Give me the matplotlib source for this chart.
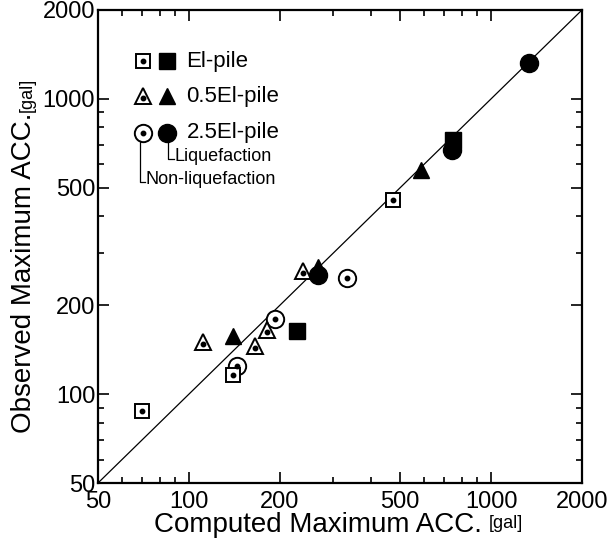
import numpy as np
import matplotlib
matplotlib.use("Agg")
import matplotlib.pyplot as plt
from matplotlib.ticker import FixedLocator, NullFormatter

plt.rcParams["font.family"] = ["Liberation Sans", "DejaVu Sans"]

# --- data (computed, observed) in gal ---
el_open_x = [70, 140, 475]
el_open_y = [88, 116, 455]
el_fill_x = [227, 747]
el_fill_y = [164, 726]

half_open_x = [111, 165, 181, 239]
half_open_y = [150, 146, 165, 262]
half_fill_x = [140, 268, 585]
half_fill_y = [157, 270, 574]

two5_open_x = [144, 192, 333]
two5_open_y = [125, 179, 247]
two5_fill_x = [268, 741, 1335]
two5_fill_y = [253, 671, 1326]

lims = [50, 2000]
major_ticks = [50, 100, 200, 500, 1000, 2000]
tick_labels = ["50", "100", "200", "500", "1000", "2000"]
minor_ticks = [60, 70, 80, 90, 300, 400, 600, 700, 800, 900]

legend_rows = ["El-pile", "0.5El-pile", "2.5El-pile"]

fig = plt.figure(figsize=(6.13, 5.43), dpi=100)
ax = fig.add_axes([98 / 613, 60 / 543, 484 / 613, 473 / 543])
ax.set_xscale("log")
ax.set_yscale("log")
ax.set_xlim(lims)
ax.set_ylim(lims)

# 1:1 line
ax.plot(lims, lims, color="black", lw=0.9, zorder=1)

dot = dict(marker="o", ms=3.2, color="black", ls="none", zorder=5)
open_kw = dict(ls="none", mfc="white", mec="black", mew=1.4, zorder=3)
fill_kw = dict(ls="none", color="black", zorder=4)

# circles
ax.plot(two5_open_x, two5_open_y, marker="o", ms=12.5, **open_kw)
ax.plot(two5_open_x, two5_open_y, **dot)
ax.plot(two5_fill_x, two5_fill_y, marker="o", ms=13, **fill_kw)
# triangles
ax.plot(half_open_x, half_open_y, marker="^", ms=11.5, **open_kw)
ax.plot(half_open_x, np.array(half_open_y) * 0.985, **dot)
ax.plot(half_fill_x, half_fill_y, marker="^", ms=12, **fill_kw)
# squares
ax.plot(el_open_x, el_open_y, marker="s", ms=9.5, **open_kw)
ax.plot(el_open_x, el_open_y, **dot)
ax.plot(el_fill_x, el_fill_y, marker="s", ms=11, **fill_kw)

# ticks
for axis in (ax.xaxis, ax.yaxis):
    axis.set_major_locator(FixedLocator(major_ticks))
    axis.set_minor_locator(FixedLocator(minor_ticks))
    axis.set_minor_formatter(NullFormatter())
ax.set_xticklabels(tick_labels)
ax.set_yticklabels(tick_labels)
ax.tick_params(which="both", direction="in", top=True, right=True,
               width=1.2, labelsize=17)
ax.tick_params(which="major", length=8)
ax.tick_params(axis="x", which="major", pad=6)
ax.tick_params(axis="y", which="major", pad=2)
ax.tick_params(which="minor", length=4.5)
for s in ax.spines.values():
    s.set_linewidth(1.6)

# legend drawn by hand
T = ax.transAxes
row_y = [0.892, 0.818, 0.741]
open_m = ["s", "^", "o"]
fill_m = ["s", "^", "o"]
open_ms = [9.5, 11.5, 12.5]
fill_ms = [11, 12, 13]
for i, label in enumerate(legend_rows):
    ax.plot([0.092], [row_y[i]], marker=open_m[i], ms=open_ms[i],
            transform=T, clip_on=False, **open_kw)
    ax.plot([0.092], [row_y[i] - (0.004 if i == 1 else 0)], transform=T,
            clip_on=False, **dot)
    ax.plot([0.142], [row_y[i]], marker=fill_m[i], ms=fill_ms[i],
            transform=T, clip_on=False, **fill_kw)
    ax.text(0.183, row_y[i], label, transform=T, fontsize=16,
            va="center", ha="left")

# annotation connectors
ax.plot([0.144, 0.144, 0.156], [0.72, 0.684, 0.684], color="black",
        lw=0.9, transform=T)
ax.text(0.159, 0.690, "Liquefaction", transform=T, fontsize=13,
        va="center", ha="left")
ax.plot([0.087, 0.087, 0.097], [0.72, 0.636, 0.636], color="black",
        lw=0.9, transform=T)
ax.text(0.099, 0.641, "Non-liquefaction", transform=T, fontsize=13,
        va="center", ha="left")

# axis labels with smaller units
fig.text(482 / 613, 1 - 525 / 543, "Computed Maximum ACC.", fontsize=20,
         ha="right", va="center")
fig.text(489 / 613, 1 - 523 / 543, "[gal]", fontsize=13,
         ha="left", va="center")
fig.text(24 / 613, 1 - 433 / 543, "Observed Maximum ACC.", fontsize=20,
         ha="center", va="bottom", rotation=90)
fig.text(27 / 613, 1 - 112 / 543, "[gal]", fontsize=13,
         ha="center", va="bottom", rotation=90)

fig.savefig("out.png", dpi=100)
